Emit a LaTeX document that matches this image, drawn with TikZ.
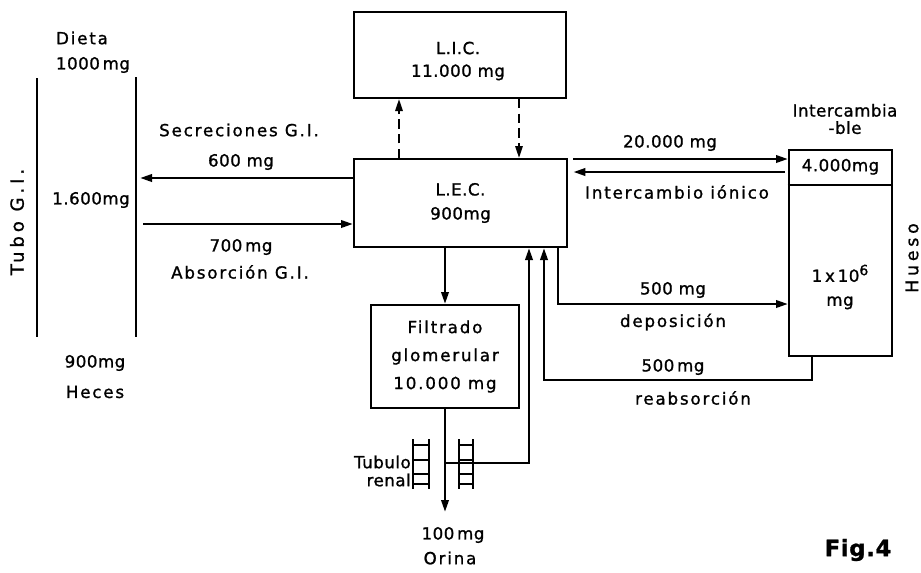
\documentclass[tikz,border=0pt]{standalone}
\usepackage{fontspec}
\setmainfont{DejaVu Sans}[LetterSpace=3,FakeBold=1.2]
\newfontfamily\wide{DejaVu Sans}[LetterSpace=11,FakeBold=1.2]
\newfontfamily\wider{DejaVu Sans}[LetterSpace=22,FakeBold=1.2]
\usetikzlibrary{arrows.meta}
\begin{document}
\begin{tikzpicture}[x=0.75pt,y=-0.75pt,
  line width=1.9pt,
  every node/.style={font=\fontsize{12.5}{15}\selectfont, inner sep=0pt},
  box/.style={draw, line width=1.5pt, align=center},
  lbl/.style={align=center},
  wlbl/.style={align=center, font=\fontsize{12.5}{15}\selectfont\wide},
  flow/.style={-{Triangle[length=9pt,width=5.5pt]}},
  dflow/.style={flow, dash pattern=on 7pt off 4pt, line width=1.5pt},
  rail/.style={line width=1.3pt}]
\useasboundingbox (0,0) rectangle (921,572);

% boxes
\node[box, minimum width=212*0.75pt, minimum height=86*0.75pt] (lic) at (460,55) {};
\node[lbl] (lictxt) at (458,61) {L.I.C.\\[2pt]11.000 mg};
\node[box, minimum width=213*0.75pt, minimum height=88*0.75pt] (lec) at (460.5,203) {L.E.C.\\[3pt]900mg};
\node[box, minimum width=148*0.75pt, minimum height=103*0.75pt, font=\fontsize{12.5}{15}\selectfont\wide] (filt) at (445,356.5) {Filtrado\\[6pt]glomerular\\[6pt]10.000 mg};
\node[box, minimum width=103*0.75pt, minimum height=206*0.75pt] (bone) at (840.5,253) {};
\node[minimum width=103*0.75pt, minimum height=33*0.75pt, anchor=north] (inter) at (bone.north) {4.000mg};
\draw[line width=1.5pt] (inter.south west) -- (inter.south east);
\node[lbl] (bonetxt) at (840,287) {1\,x\,10\raisebox{5pt}{\fontsize{10.5}{12}\selectfont 6}\\[3pt]mg};

% Tubo G.I.
\coordinate (t1a) at (37,78); \coordinate (t1b) at (37,337);
\coordinate (t2a) at (136,77); \coordinate (t2b) at (136,337);
\draw (t1a) -- (t1b);
\draw (t2a) -- (t2b);
\node[rotate=90, font=\fontsize{13.5}{15}\selectfont\wider] (tubo) at (17,222) {Tubo G.I.};
\node[wlbl] (dieta) at (82,38) {Dieta};
\node[lbl] (d1000) at (93,65) {1000\,mg};
\node[lbl] (g1600) at (91,200) {1.600mg};
\node[lbl] (h900) at (95,363) {900mg};
\node[wlbl] (heces) at (95,392) {Heces};

% GI arrows
\coordinate (sec) at (140,178);
\coordinate (abs) at (136,224);
\draw[flow] (lec.west |- sec) -- (sec);
\draw[flow] ([xshift=5.5pt]abs) -- (lec.west |- abs);
\node[wlbl] (seclbl) at (239,130) {Secreciones G.I.};
\node[lbl] (s600) at (241,162) {600 mg};
\node[lbl] (a700) at (241,247) {700\,mg};
\node[wlbl] (abslbl) at (240,272) {Absorción G.I.};

% LIC <-> LEC
\draw[dflow] (lec.north -| 399,0) -- (lic.south -| 399,0);
\draw[dflow] (lic.south -| 519,0) -- (lec.north -| 519,0);

% ion exchange
\coordinate (ie1) at (573,159);
\coordinate (ie2) at (785,172);
\draw[flow] (ie1) -- (bone.west |- ie1);
\draw[flow] (ie2) -- ([xshift=4pt]lec.east |- ie2);
\node[lbl] (i20) at (670,143) {20.000 mg};
\node[wlbl] (ionlbl) at (677,192) {Intercambio iónico};
\node[lbl] (intlbl) at (845,119) {Intercambia\\[-2pt]-ble};
\node[rotate=90, font=\fontsize{13}{15}\selectfont\wider] (hueso) at (912,258) {Hueso};

% deposition
\coordinate (dep) at (558,304);
\draw[flow] (lec.south -| dep) -- (dep) -- (bone.west |- dep);
\node[lbl] (d500) at (673,290) {500 mg};
\node[wlbl] (deplbl) at (673,322) {deposición};

% reabsorption
\coordinate (rb) at (812,380);
\coordinate (ra) at (544,380);
\draw[flow] (bone.south -| rb) -- (rb) -- (ra) -- (lec.south -| ra);
\node[lbl] (r500) at (673,367) {500\,mg};
\node[wlbl] (reablbl) at (693,398) {reabsorción};

% kidney
\draw[flow] (lec.south -| filt.north) -- (filt.north);
\coordinate (ori) at (445,512);
\draw[flow] (filt.south) -- (ori);
\coordinate (tb) at (445,463);
\coordinate (tr) at (529,463);
\draw[flow] (tb) -- (tr) -- (lec.south -| tr);
\node[lbl] (u100) at (453,535) {100\,mg};
\node[wlbl] (orina) at (450,558) {Orina};
\node[lbl, anchor=east] (tub) at (412,462) {Tubulo};
\node[lbl, anchor=east] (ren) at (412,480) {renal};

% ladders
\foreach \xa/\xb in {413/429, 459/473}{
  \draw[rail] (\xa,439) -- (\xa,489);
  \draw[rail] (\xb,439) -- (\xb,489);
  \foreach \yy in {445,460,474,484}
    \draw[rail] (\xa,\yy) -- (\xb,\yy);
}

\node[font=\fontsize{17}{20}\selectfont\bfseries] (fig) at (858,550) {Fig.4};
\end{tikzpicture}
\end{document}
